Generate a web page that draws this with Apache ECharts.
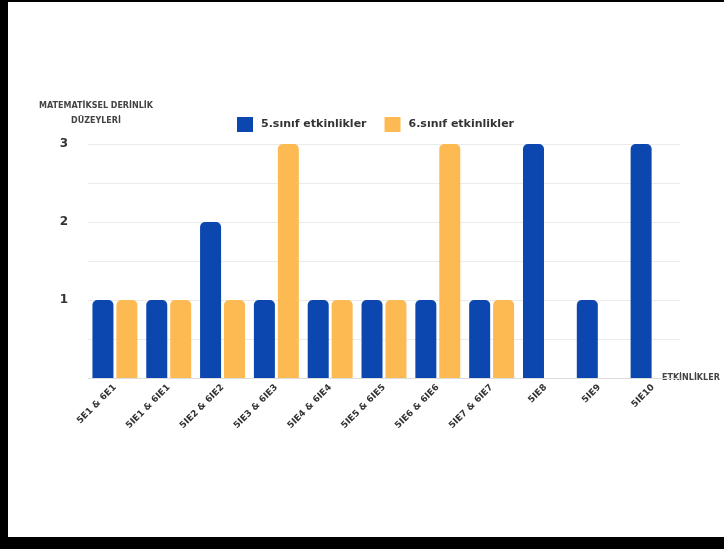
<!DOCTYPE html>
<html>
<head>
<meta charset="utf-8">
<script src="https://cdn.jsdelivr.net/npm/echarts@6/dist/echarts.min.js"></script>
<style>
html,body{margin:0;padding:0;background:#fff;}
#wrap{position:relative;width:724px;height:549px;overflow:hidden;}
#chart{position:absolute;left:0;top:0;width:724px;height:549px;}
.b{position:absolute;background:#000;}
</style>
</head>
<body>
<div id="wrap">
<div id="chart"></div>
<div class="b" style="left:0;top:0;width:724px;height:2px;"></div>
<div class="b" style="left:0;top:0;width:8px;height:549px;"></div>
<div class="b" style="left:0;top:537px;width:724px;height:12px;"></div>
</div>
<script>
var categories = ['5E1 & 6E1','5IE1 & 6IE1','5IE2 & 6IE2','5IE3 & 6IE3','5IE4 & 6IE4','5IE5 & 6IE5','5IE6 & 6IE6','5IE7 & 6IE7','5IE8','5IE9','5IE10'];
var grade5 = [1,1,2,1,1,1,1,1,3,1,3];
var grade6 = [1,1,1,3,1,1,3,1,null,null,null];
var seriesNames = ['5.sınıf etkinlikler','6.sınıf etkinlikler'];
var yTickLabels = {1:'1',2:'2',3:'3'};

var F = '"DejaVu Sans", Roboto, sans-serif';
var chart = echarts.init(document.getElementById('chart'));
chart.setOption({
  animation:false,
  textStyle:{fontFamily:F},
  legend:{
    left:232, top:112, itemWidth:16, itemHeight:15, itemGap:18,
    icon:'rect',
    textStyle:{fontSize:11, fontWeight:'bold', color:'#333', fontFamily:F, padding:[0,0,0,3]},
    data:seriesNames
  },
  grid:{left:88, right:44, top:144, bottom:171, containLabel:false},
  xAxis:{
    type:'category', data:categories,
    name:'ETKİNLİKLER', nameLocation:'end', nameGap:-18,
    nameTextStyle:{fontSize:8, fontWeight:'bold', color:'#444', fontFamily:F, padding:[10,0,0,0], align:'left'},
    axisLine:{lineStyle:{color:'#ddd'}},
    axisTick:{show:false},
    axisLabel:{rotate:45, fontSize:9, fontWeight:'bold', color:'#333', fontFamily:F, margin:8, interval:0}
  },
  yAxis:{
    type:'value', min:0, max:3, interval:0.5,
    name:'MATEMATİKSEL DERİNLİK\nDÜZEYLERİ', nameLocation:'end', nameGap:16,
    nameTextStyle:{fontSize:8, fontWeight:'bold', color:'#444', fontFamily:F, lineHeight:15, align:'center', padding:[0,0,0,16]},
    axisLine:{show:false}, axisTick:{show:false},
    splitLine:{lineStyle:{color:'#ebebeb'}},
    axisLabel:{fontSize:12, fontWeight:'bold', color:'#333', fontFamily:F, margin:20,
      formatter:function(v){return yTickLabels[v] || '';}}
  },
  series:[
    {name:seriesNames[0], type:'bar', data:grade5, barWidth:21, barGap:'14%',
     itemStyle:{color:'#0B47AE', borderRadius:[5,5,0,0]}},
    {name:seriesNames[1], type:'bar', data:grade6, barWidth:21, barGap:'14%',
     itemStyle:{color:'#FDBA52', borderRadius:[5,5,0,0]}}
  ]
});
</script>
</body>
</html>
